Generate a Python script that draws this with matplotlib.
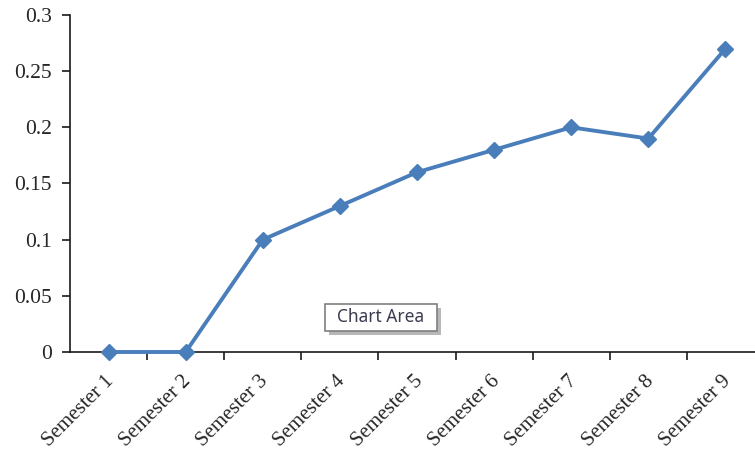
import matplotlib
matplotlib.use("Agg")
import matplotlib.pyplot as plt
from matplotlib.patches import Rectangle

categories = ["Semester 1", "Semester 2", "Semester 3", "Semester 4", "Semester 5",
              "Semester 6", "Semester 7", "Semester 8", "Semester 9"]
values = [0, 0, 0.10, 0.13, 0.16, 0.18, 0.20, 0.19, 0.27]
yticks = [0, 0.05, 0.1, 0.15, 0.2, 0.25, 0.3]
ytick_labels = ["0", "0.05", "0.1", "0.15", "0.2", "0.25", "0.3"]

W, H = 755, 451
fig = plt.figure(figsize=(W / 100, H / 100), dpi=100)
fig.patch.set_facecolor("white")

left, right = 70 / W, 764 / W
bottom, top = 1 - 352 / H, 1 - 15 / H
ax = fig.add_axes([left, bottom, right - left, top - bottom])

x = list(range(len(categories)))
ax.plot(x, values, color="#4A7EBB", linewidth=2.8, marker="D", markersize=8,
        markerfacecolor="#4A7EBB", markeredgecolor="#4A7EBB", clip_on=False, zorder=3)

ax.set_xlim(-0.5, len(categories) - 0.5)
ax.set_ylim(0, 0.3)

for s in ["top", "right"]:
    ax.spines[s].set_visible(False)
for s in ["left", "bottom"]:
    ax.spines[s].set_color("#1a1a1a")
    ax.spines[s].set_linewidth(1.2)

serif = "Liberation Serif"
ax.set_yticks(yticks)
ax.set_yticklabels(ytick_labels, fontsize=15.5, family=serif, color="#262626")
ax.tick_params(axis="y", direction="out", length=6, width=1.2, color="#1a1a1a", pad=7)

# category boundaries carry the tick marks
ax.set_xticks([i - 0.5 for i in range(1, len(categories) + 1)])
ax.set_xticklabels([])
ax.tick_params(axis="x", direction="out", length=6, width=1.2, color="#1a1a1a")
for i, lab in enumerate(categories):
    ax.annotate(lab, xy=(i, 0), xycoords=("data", "data"), xytext=(2, -19),
                textcoords="offset points", rotation=45, rotation_mode="anchor",
                ha="right", va="center", fontsize=15, family=serif, color="#262626",
                annotation_clip=False)

# "Chart Area" tooltip with drop shadow
bx0, by0, bw, bh = 325, 304, 112, 27
fig.patches.append(Rectangle(((bx0 + 4) / W, 1 - (by0 + bh + 4) / H), bw / W, bh / H,
                             transform=fig.transFigure, facecolor="#9a9a9a",
                             edgecolor="none", alpha=0.7, zorder=5))
fig.patches.append(Rectangle((bx0 / W, 1 - (by0 + bh) / H), bw / W, bh / H,
                             transform=fig.transFigure, facecolor="white",
                             edgecolor="#7f7f7f", linewidth=1.2, zorder=6))
fig.text((bx0 + bw / 2) / W, 1 - (by0 + bh / 2) / H, "Chart Area", ha="center",
         va="center", fontsize=12.5, family="Noto Sans", color="#3c3c50", zorder=7)

fig.savefig("out.png", dpi=100, facecolor="white")
